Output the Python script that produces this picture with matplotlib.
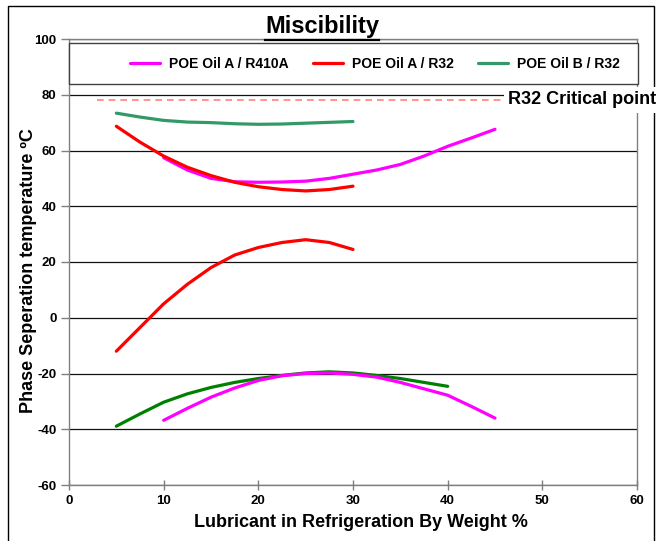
import matplotlib
matplotlib.use("Agg")
import matplotlib.pyplot as plt
from matplotlib.patches import Rectangle
from matplotlib.lines import Line2D

plt.rcParams['font.family'] = ['Liberation Sans', 'DejaVu Sans']

# ---- data ----
x_a410_up = [10, 12.5, 15, 17.5, 20, 22.5, 25, 27.5, 30, 32.5, 35, 37.5, 40, 42.5, 45]
y_a410_up = [57.4, 53, 50, 48.8, 48.6, 48.7, 49, 50, 51.5, 53, 55, 58, 61.5, 64.5, 67.6]
x_a410_lo = [10, 12.5, 15, 17.5, 20, 22.5, 25, 27.5, 30, 32.5, 35, 37.5, 40, 42.5, 45]
y_a410_lo = [-36.8, -32.5, -28.5, -25.2, -22.5, -20.8, -20, -19.8, -20.3, -21.3, -23.2, -25.5, -27.8, -31.8, -36]

x_a32_up = [5, 7.5, 10, 12.5, 15, 17.5, 20, 22.5, 25, 27.5, 30]
y_a32_up = [68.7, 63, 58, 54, 51, 48.6, 47, 46, 45.5, 46, 47.2]
x_a32_lo = [5, 7.5, 10, 12.5, 15, 17.5, 20, 22.5, 25, 27.5, 30]
y_a32_lo = [-12, -3.5, 5, 12, 18, 22.5, 25.2, 27, 28, 27, 24.5]

x_b32_up = [5, 7.5, 10, 12.5, 15, 17.5, 20, 22.5, 25, 27.5, 30]
y_b32_up = [73.4, 72, 70.8, 70.2, 70, 69.6, 69.4, 69.5, 69.8, 70.1, 70.4]
x_b32_lo = [5, 7.5, 10, 12.5, 15, 17.5, 20, 22.5, 25, 27.5, 30, 32.5, 35, 37.5, 40]
y_b32_lo = [-38.9, -34.5, -30.3, -27.3, -25, -23.2, -21.8, -20.7, -19.8, -19.4, -19.8, -20.7, -21.8, -23.2, -24.6]

crit_x = [3, 45.6]
crit_y = [78, 78]

series_labels = ["POE Oil A / R410A", "POE Oil A / R32", "POE Oil B / R32"]
x_ticks = [0, 10, 20, 30, 40, 50, 60]
y_ticks = [-60, -40, -20, 0, 20, 40, 60, 80, 100]

W, H = 656, 541
fig = plt.figure(figsize=(W / 100, H / 100), dpi=100)
ax = fig.add_axes([69 / W, 1 - 485 / H, (637 - 69) / W, (485 - 39) / H])

LW = 2.3
MAG, RED, SG, DG = '#FF00FF', '#FF0000', '#339966', '#008000'
kw = dict(lw=LW, solid_capstyle='round', solid_joinstyle='round')
l1, = ax.plot(x_a410_up, y_a410_up, color=MAG, **kw)
ax.plot(x_a410_lo, y_a410_lo, color=MAG, **kw)
l2, = ax.plot(x_a32_up, y_a32_up, color=RED, **kw)
ax.plot(x_a32_lo, y_a32_lo, color=RED, **kw)
l3, = ax.plot(x_b32_up, y_b32_up, color=SG, **kw)
ax.plot(x_b32_lo, y_b32_lo, color=DG, zorder=1.9, **kw)
ax.plot(crit_x, crit_y, color='#FF8080', lw=1.2, ls=(0, (4, 3)))

ax.set_xlim(0, 60)
ax.set_ylim(-60, 100)
ax.set_xticks(x_ticks)
ax.set_yticks(y_ticks)
ax.set_xticklabels([str(v) for v in x_ticks], fontweight='bold', fontsize=9.5)
ax.set_yticklabels([str(v) for v in y_ticks], fontweight='bold', fontsize=9.5)
ax.tick_params(axis='y', direction='out', length=6, width=1, color='#808080', pad=3)
ax.tick_params(axis='x', direction='inout', length=7, width=1, color='#808080', pad=4)
ax.yaxis.grid(True, color='#111111', lw=0.9)
ax.set_axisbelow(True)
for s in ax.spines.values():
    s.set_color('#808080')
    s.set_linewidth(1)

ax.set_xlabel("Lubricant in Refrigeration By Weight %", fontweight='bold', fontsize=13)
ax.xaxis.set_label_coords((361 - 69) / 568, (485 - 514) / 446)
ax.set_ylabel("Phase Seperation temperature ºC", fontweight='bold', fontsize=13)
ax.yaxis.set_label_coords((37 - 69) / 568, (485 - 271) / 446)

# legend box
ax.add_patch(Rectangle((0, 0.9), 1.002, 0.09, transform=ax.transAxes, fill=True,
                       fc='white', ec='#404040', lw=1, zorder=3, clip_on=False))
ax.legend([l1, l2, l3], series_labels, loc='center', bbox_to_anchor=(0.538, 0.945),
          ncol=3, frameon=False, prop={'weight': 'bold', 'size': 10}, handlelength=2.2,
          columnspacing=1.75, handletextpad=0.6).set_zorder(4)

# title
t = fig.text(322 / W, 1 - 27 / H, "Miscibility", fontweight='bold', fontsize=17,
             ha='center', va='center')
fig.canvas.draw()
bb = t.get_window_extent(fig.canvas.get_renderer())
fig.add_artist(Line2D([bb.x0 / W, bb.x1 / W], [(bb.y0 - 1) / H, (bb.y0 - 1) / H],
                      transform=fig.transFigure, color='black', lw=1.6))

# outer border
fig.add_artist(Rectangle((8 / W, -0.02), (654 - 8) / W, 1 - 6 / H + 0.02,
                         transform=fig.transFigure, fill=False, ec='black', lw=1, zorder=1))

fig.text(508 / W, 1 - 100 / H, "R32 Critical point", fontweight='bold', fontsize=13,
         ha='left', va='center', zorder=10,
         bbox=dict(facecolor='white', edgecolor='none', pad=3))

fig.savefig("out.png", dpi=100)
